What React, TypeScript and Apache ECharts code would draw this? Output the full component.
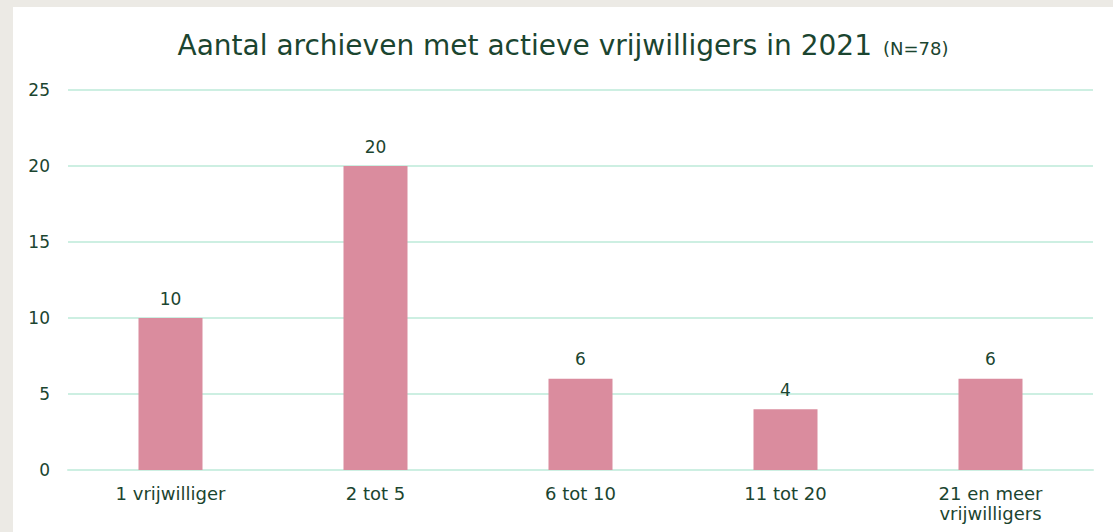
import React, { useEffect, useRef } from "react";
import * as echarts from "echarts";

const categories = ["1 vrijwilliger", "2 tot 5", "6 tot 10", "11 tot 20", "21 en meer\nvrijwilligers"];
const values = [10, 20, 6, 4, 6];
const titleMain = "Aantal archieven met actieve vrijwilligers in 2021";
const titleSub = "(N=78)";

const TEXT = "#1B4530";
const FONT = "'DejaVu Sans', sans-serif";

export default function App() {
  const ref = useRef<HTMLDivElement>(null);
  useEffect(() => {
    if (!ref.current) return;
    const chart = echarts.init(ref.current, null, { renderer: "svg" });
    chart.setOption({
      animation: false,
      backgroundColor: "#ffffff",
      title: {
        text: `{a|${titleMain}} {b|${titleSub}}`,
        left: "center",
        top: 19,
        textStyle: {
          fontWeight: "normal",
          rich: {
            a: { fontSize: 28, color: TEXT, fontFamily: FONT, fontWeight: "normal" },
            b: { fontSize: 18, color: TEXT, fontFamily: FONT, fontWeight: "normal", verticalAlign: "bottom", padding: [0, 0, 2, 6] },
          },
        },
      },
      grid: { left: 55, right: 20, top: 83, bottom: 62, containLabel: false },
      xAxis: {
        type: "category",
        data: categories,
        axisLine: { lineStyle: { color: "#CDEFE2", width: 2 } },
        axisTick: { show: false },
        axisLabel: { color: TEXT, fontSize: 18, fontFamily: FONT, margin: 13, lineHeight: 20 },
      },
      yAxis: {
        type: "value",
        min: 0,
        max: 25,
        interval: 5,
        axisLine: { show: false },
        axisTick: { show: false },
        splitLine: { lineStyle: { color: "#CDEFE2", width: 2 } },
        axisLabel: { color: TEXT, fontSize: 17, fontFamily: FONT, margin: 18 },
      },
      series: [
        {
          type: "bar",
          data: values,
          barWidth: 64,
          itemStyle: { color: "#DA8C9E" },
          label: { show: true, position: "top", color: TEXT, fontSize: 17, fontFamily: FONT, distance: 11 },
        },
      ],
    });
    return () => chart.dispose();
  }, []);
  return (
    <div style={{ position: "fixed", left: 0, top: 0, width: 1113, height: 532, background: "#ECEAE5" }}>
      <div ref={ref} style={{ position: "absolute", left: 13, top: 7, width: 1100, height: 525 }} />
    </div>
  );
}
